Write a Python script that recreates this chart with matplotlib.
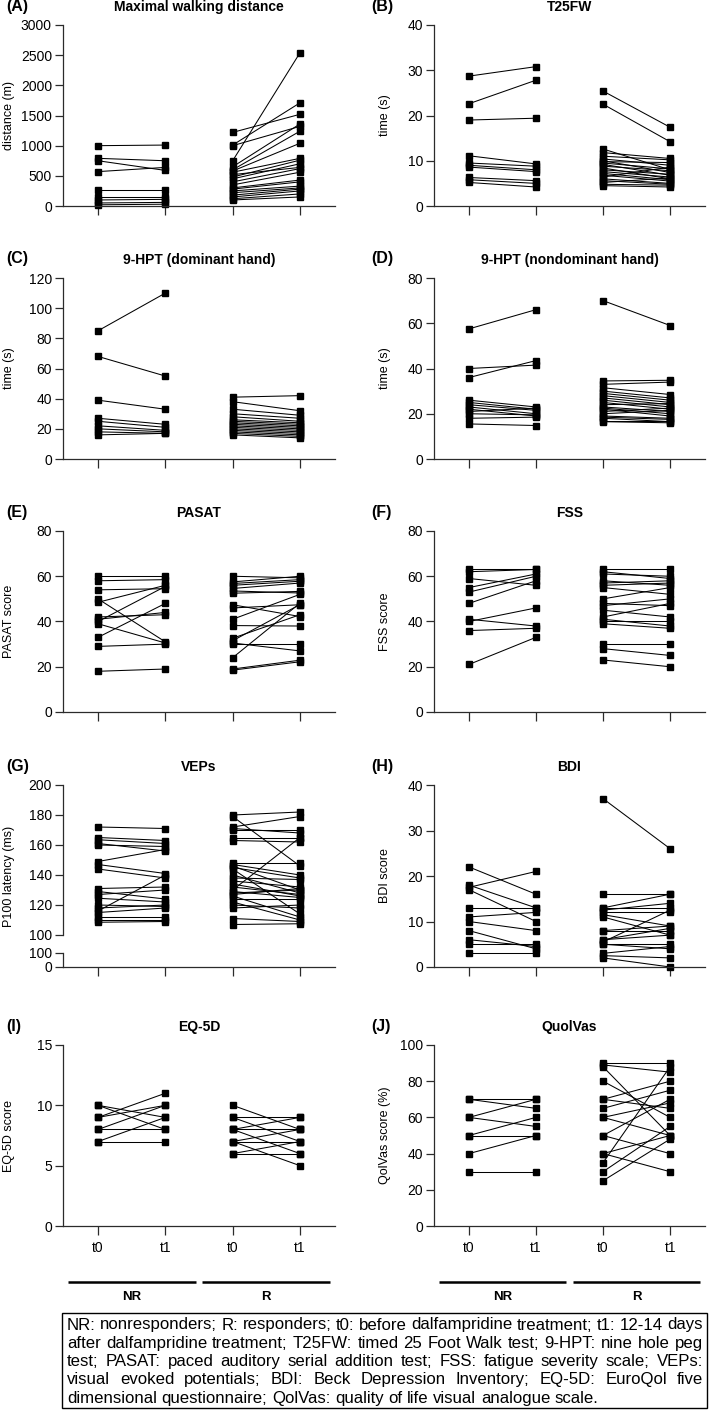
import matplotlib
matplotlib.use("Agg")
import matplotlib.pyplot as plt
import matplotlib.transforms as mtransforms
from matplotlib import font_manager
from matplotlib.patches import Rectangle

# ---- data (t0 -> t1 per patient) ----
A_NR_T0 = [1000, 790, 750, 570, 260, 150, 100, 50, 20]
A_NR_T1 = [1010, 750, 590, 640, 260, 150, 110, 60, 30]
A_R_T0 = [1220, 1010, 1000, 750, 650, 600, 580, 560, 520, 480, 450, 400, 350, 300, 280, 250, 220, 180, 150, 120, 100]
A_R_T1 = [1520, 1710, 1320, 2540, 1360, 1240, 1040, 790, 640, 760, 700, 620, 560, 430, 400, 330, 300, 280, 250, 200, 150]

B_NR_T0 = [28.7, 22.6, 19.0, 11.1, 9.5, 9.0, 8.6, 6.3, 5.8, 5.2]
B_NR_T1 = [30.8, 27.8, 19.4, 9.3, 8.8, 8.0, 7.6, 5.6, 5.0, 4.2]
B_R_T0 = [25.4, 22.5, 12.6, 11.8, 11.0, 10.4, 10.0, 9.8, 9.5, 9.2, 8.8, 8.4, 8.0, 7.6, 7.2, 6.8, 6.4, 6.0, 5.6, 5.2, 4.8, 4.5]
B_R_T1 = [17.4, 14.2, 8.0, 10.5, 10.2, 9.0, 7.4, 9.6, 8.2, 6.8, 7.8, 6.0, 7.0, 6.4, 5.8, 5.5, 8.6, 5.0, 4.8, 6.2, 4.6, 4.2]

C_NR_T0 = [85, 68, 39, 27, 25, 22, 20, 18, 16]
C_NR_T1 = [110, 55, 33, 23, 21, 19, 18, 17, 17]
C_R_T0 = [41, 38, 33, 30, 28, 26, 25, 24, 23, 22, 21, 20, 19, 18, 17, 16]
C_R_T1 = [42, 32, 29, 27, 25, 24, 23, 22, 21, 20, 19, 18, 17, 16, 15, 14]

D_NR_T0 = [57.5, 40, 36, 26, 25, 24, 23, 22, 21, 20, 18, 15.5]
D_NR_T1 = [66, 41.5, 43.5, 23, 22, 21.5, 20, 19, 22.5, 19.5, 18.5, 14.8]
D_R_T0 = [70, 34.5, 33, 31.5, 30, 29, 28, 27, 26, 25, 24, 23, 22.5, 22, 21, 20, 19, 18.5, 18, 17, 16.5]
D_R_T1 = [59, 34.8, 34, 28.5, 27, 26, 25, 24, 23, 22, 24.5, 21, 20, 19, 22.5, 21.5, 18, 17.5, 16.5, 17, 16]

E_NR_T0 = [60, 58, 54, 50, 48.5, 42, 41, 40, 39, 33, 29, 18]
E_NR_T1 = [60, 58.5, 54.5, 31, 56, 43, 44, 55.5, 30.5, 48, 30, 19]
E_R_T0 = [60, 57.5, 56.8, 56, 54.6, 53.5, 52.5, 47.4, 46, 41, 38.2, 32.6, 31.5, 30.5, 30, 24, 19, 18.5]
E_R_T1 = [59.3, 60, 58.5, 57.8, 57, 52.6, 53.3, 42.2, 47.4, 52, 38, 43, 47.5, 27, 30, 48.1, 22.9, 22.2]

F_NR_T0 = [63, 62, 59, 55, 53, 48, 41, 40, 36, 21]
F_NR_T1 = [63, 63, 56, 61, 60, 58, 38, 46, 37, 33]
F_R_T0 = [63, 62, 61, 58, 57, 56, 55, 50, 48, 47, 45, 42, 41, 40, 39, 30, 28, 23]
F_R_T1 = [63, 59, 60, 56, 58, 57, 52, 55, 47, 50, 42, 48, 38, 40, 37, 30, 25, 20]

G_NR_T0 = [172, 165, 163.5, 161, 160, 149, 147, 144, 131, 129, 127, 124.5, 120, 118, 116, 115, 112, 110, 108.5]
G_NR_T1 = [171, 163, 161, 156, 159, 157, 141, 138, 132, 124, 130, 122, 119, 120, 140, 118, 112, 110, 109]
G_R_T0 = [180, 179, 172, 171, 170, 165, 163, 148, 147, 146, 145, 144, 140, 138, 136, 134, 132, 130, 129, 128, 127, 126, 124, 122, 120, 118, 111, 107]
G_R_T1 = [182, 146, 179, 168, 170, 165, 162, 148, 140, 130, 138, 114, 128, 137, 132, 126, 127, 165, 125, 130, 131, 112, 124, 110, 118, 120, 109, 107.5]

H_NR_T0 = [22, 18, 17.5, 17, 13, 11, 10, 8, 6, 5, 3]
H_NR_T1 = [16, 13, 21, 10, 13, 12, 8, 4, 4.5, 5, 3]
H_R_T0 = [37, 16, 13, 13, 12.5, 12, 11.5, 11, 8, 8, 6, 6, 5.5, 5, 5, 3, 2.5, 2]
H_R_T1 = [26, 16, 16, 13, 14, 12, 9, 7, 8, 9, 8.5, 7, 12.5, 5, 4, 4.5, 2, 0]

I_NR_T0 = [10, 10, 9, 9, 8, 8, 7, 7]
I_NR_T1 = [8, 9, 11, 10, 10, 8, 9, 7]
I_R_T0 = [10, 9, 9, 8, 8, 8, 7, 7, 7, 6, 6]
I_R_T1 = [8, 9, 7, 9, 8, 6, 8, 7, 5, 6, 7]

J_NR_T0 = [70, 70, 60, 60, 50, 50, 40, 30]
J_NR_T1 = [70, 65, 70, 55, 60, 50, 50, 30]
J_R_T0 = [90, 89, 88, 80, 70, 70, 65, 60, 60, 50, 50, 40, 40, 35, 30, 25]
J_R_T1 = [90, 85, 50, 60, 80, 65, 75, 50, 68, 70, 40, 30, 50, 88, 55, 48]

LETTERS = ["(A)", "(B)", "(C)", "(D)", "(E)", "(F)", "(G)", "(H)", "(I)", "(J)"]
TITLES = ["Maximal walking distance", "T25FW", "9-HPT (dominant hand)", "9-HPT (nondominant hand)",
          "PASAT", "FSS", "VEPs", "BDI", "EQ-5D", "QuolVas"]
YLABELS = ["distance (m)", "time (s)", "time (s)", "time (s)", "PASAT score", "FSS score",
           "P100 latency (ms)", "BDI score", "EQ-5D score", "QolVas score (%)"]
YMAX = [3000, 40, 120, 80, 80, 80, 200, 40, 15, 100]
YSTEP = [500, 10, 20, 20, 20, 20, 20, 10, 5, 20]
TIME_LABELS = ["t0", "t1", "t0", "t1"]
GROUPS = ["NR", "R"]
SERIES = [(A_NR_T0, A_NR_T1, A_R_T0, A_R_T1), (B_NR_T0, B_NR_T1, B_R_T0, B_R_T1),
          (C_NR_T0, C_NR_T1, C_R_T0, C_R_T1), (D_NR_T0, D_NR_T1, D_R_T0, D_R_T1),
          (E_NR_T0, E_NR_T1, E_R_T0, E_R_T1), (F_NR_T0, F_NR_T1, F_R_T0, F_R_T1),
          (G_NR_T0, G_NR_T1, G_R_T0, G_R_T1), (H_NR_T0, H_NR_T1, H_R_T0, H_R_T1),
          (I_NR_T0, I_NR_T1, I_R_T0, I_R_T1), (J_NR_T0, J_NR_T1, J_R_T0, J_R_T1)]

CAPTION = [
    "NR: nonresponders; R: responders; t0: before dalfampridine treatment; t1: 12-14 days",
    "after dalfampridine treatment; T25FW: timed 25 Foot Walk test; 9-HPT: nine hole peg",
    "test; PASAT: paced auditory serial addition test; FSS: fatigue severity scale; VEPs:",
    "visual evoked potentials; BDI: Beck Depression Inventory; EQ-5D: EuroQol five",
    "dimensional questionnaire; QolVas: quality of life visual analogue scale.",
]

# ---- layout (pixels) ----
W, H = 709, 1410
COLS = [(63, 335), (434, 705)]
ROWS = [(25, 206), (278, 459), (531, 712), (785, 967), (1045, 1226)]
SPINE = "#2b2b2b"

plt.rcParams["font.family"] = ["Liberation Sans", "DejaVu Sans"]
fig = plt.figure(figsize=(W / 100, H / 100), dpi=100)


def px_axes(l, t, r, b):
    return fig.add_axes([l / W, 1 - b / H, (r - l) / W, (b - t) / H])


def ftext(x, y, s, **kw):
    return fig.text(x / W, 1 - y / H, s, **kw)


def style(ax, ymin, ymax, yticks, xaxis=True):
    ax.set_xlim(0.48, 4.52)
    ax.set_ylim(ymin, ymax)
    ax.set_yticks(yticks)
    ax.patch.set_visible(False)
    for s in ("top", "right"):
        ax.spines[s].set_visible(False)
    ax.spines["left"].set_bounds(ymin, ymax)
    for s in ("left", "bottom"):
        ax.spines[s].set_color(SPINE)
        ax.spines[s].set_linewidth(0.9)
    ax.tick_params(axis="y", length=6, width=0.9, color=SPINE, pad=2, labelsize=10)
    if xaxis:
        ax.set_xticks([1, 2, 3, 4])
        ax.set_xticklabels([])
        ax.tick_params(axis="x", length=6.5, width=0.9, color=SPINE)
    else:
        ax.spines["bottom"].set_visible(False)
        ax.set_xticks([])


def draw_pairs(ax, nr0, nr1, r0, r1):
    for a, b in zip(nr0, nr1):
        ax.plot([1, 2], [a, b], "-s", color="k", lw=0.75, ms=4.0, clip_on=False)
    for a, b in zip(r0, r1):
        ax.plot([3, 4], [a, b], "-s", color="k", lw=0.75, ms=4.0, clip_on=False)


for i in range(10):
    l, r = COLS[i % 2]
    t, b = ROWS[i // 2]
    # ylabel anchor = right edge of the rotated text
    lab_x = -0.178 if i % 2 == 0 else -0.16
    if i == 6:
        # VEPs: broken y axis (100-200 on top, small 0-100 stub below)
        ax = px_axes(l, t, r, 935)
        style(ax, 100, 200, range(100, 201, 20), xaxis=False)
        lo = px_axes(l, 953, r, b)
        style(lo, 0, 100, [0, 100])
        ax.set_ylabel(YLABELS[i], fontsize=9)
        ax.yaxis.set_label_coords(lab_x, 0.39)
    else:
        ax = px_axes(l, t, r, b)
        style(ax, 0, YMAX[i], range(0, YMAX[i] + 1, YSTEP[i]))
        ax.set_ylabel(YLABELS[i], fontsize=9)
        ax.yaxis.set_label_coords(lab_x, 0.5)
        lo = ax
    draw_pairs(ax, *SERIES[i])

    ftext((l + r) / 2, t - 18, TITLES[i], ha="center", va="center", fontsize=10, fontweight="bold")
    ftext(6 if i % 2 == 0 else 371, t - 19, LETTERS[i], ha="left", va="center",
          fontsize=11.5, fontweight="bold")

    if i >= 8:
        lo.set_xticklabels(TIME_LABELS, fontsize=10)
        lo.tick_params(axis="x", pad=4)
        tr = mtransforms.blended_transform_factory(lo.transData, lo.transAxes)
        for k, g in enumerate(GROUPS):
            c = 1.5 + 2 * k
            lo.plot([c - 0.95, c + 0.95], [-0.31, -0.31], color="k", lw=1.8,
                    transform=tr, clip_on=False, solid_capstyle="butt")
            lo.text(c, -0.39, g, transform=tr, ha="center", va="center",
                    fontsize=9.5, fontweight="bold")

# ---- caption box with justified text ----
fig.patches.append(Rectangle((62 / W, 1 - 1408 / H), (707 - 62) / W, (1408 - 1313) / H,
                             transform=fig.transFigure, fill=False, edgecolor="k", lw=1.0))

cap_family = "Liberation Sans"
try:
    font_manager.findfont("Liberation Sans Narrow", fallback_to_default=False)
    cap_family = "Liberation Sans Narrow"
except ValueError:
    pass

renderer = fig.canvas.get_renderer()
x0, x1 = 67, 703

# pick the size at which the first line fits the box with normal spacing
probe = ftext(0, 0, CAPTION[0], fontsize=10, family=cap_family)
cap_size = 10 * (x1 - x0) / probe.get_window_extent(renderer).width
probe.remove()

for n, line in enumerate(CAPTION):
    y = 1325 + n * 18.3
    words = line.split()
    texts = [ftext(0, y, w, ha="left", va="center", fontsize=cap_size, family=cap_family) for w in words]
    widths = [tx.get_window_extent(renderer).width for tx in texts]
    if n == len(CAPTION) - 1:
        gap = cap_size * 100 / 72 * 0.278
    else:
        gap = (x1 - x0 - sum(widths)) / (len(words) - 1)
    x = x0
    for tx, wd in zip(texts, widths):
        tx.set_x(x / W)
        x += wd + gap

fig.savefig("out.png", dpi=100)
